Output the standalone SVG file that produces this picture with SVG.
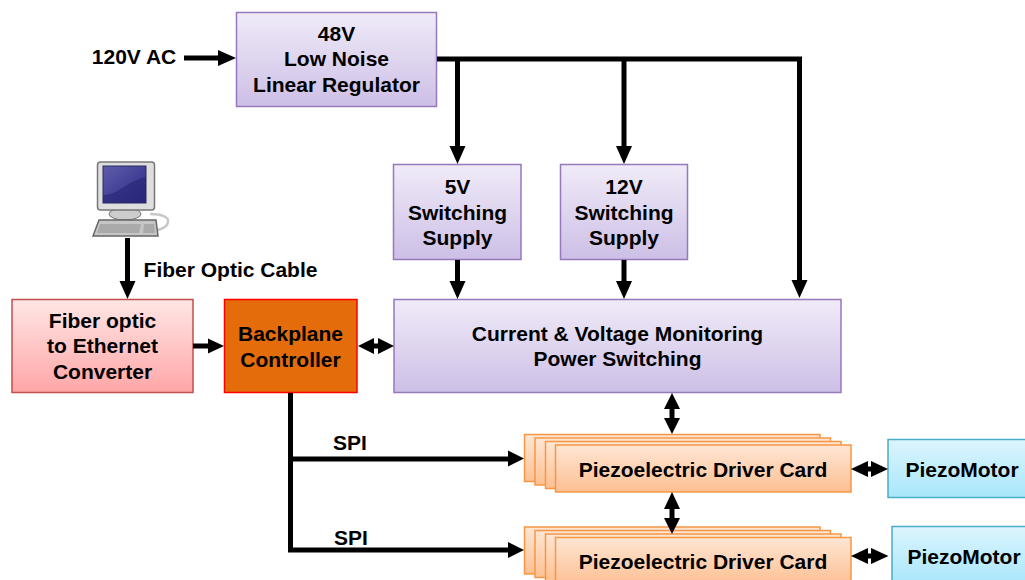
<svg xmlns="http://www.w3.org/2000/svg" width="1025" height="580" viewBox="0 0 1025 580">
<style>
text{font-family:"Liberation Sans",Arial,sans-serif;font-weight:700;font-size:21px;fill:#000;text-anchor:middle}
.p{fill:url(#gp);stroke:#9678bd;stroke-width:1.5}
.o{fill:url(#go);stroke:#f79646;stroke-width:1.5}
.b{fill:url(#gb);stroke:#4bacc6;stroke-width:1.5}
.w{fill:none;stroke:#000;stroke-width:5}
.h{fill:#000}
</style>
<defs>
<linearGradient id="gp" x1="0" y1="0" x2="0" y2="1"><stop offset="0" stop-color="#f0ebf8"/><stop offset="1" stop-color="#cdbfe6"/></linearGradient>
<linearGradient id="go" x1="0" y1="0" x2="0" y2="1"><stop offset="0" stop-color="#fee6d4"/><stop offset="1" stop-color="#fdc093"/></linearGradient>
<linearGradient id="gb" x1="0" y1="0" x2="0" y2="1"><stop offset="0" stop-color="#dcf5fd"/><stop offset="1" stop-color="#a8e6fb"/></linearGradient>
<linearGradient id="gr" x1="0" y1="0" x2="0" y2="1"><stop offset="0" stop-color="#ffe6e6"/><stop offset="1" stop-color="#ffa6a6"/></linearGradient>
<linearGradient id="gs" x1="0" y1="0" x2="1" y2="1"><stop offset="0" stop-color="#5f5da8"/><stop offset="1" stop-color="#2a2888"/></linearGradient>
</defs>
<g id="regulator"><rect class="p" x="236.500" y="12.500" width="200" height="94"/><text x="336.500" y="41">48V</text><text x="336.500" y="66">Low Noise</text><text x="336.500" y="92">Linear Regulator</text></g>
<text id="ac" x="134" y="64">120V AC</text>
<g id="computer">
<path d="M150 214C162 214 169 217 168 222C167 228 158 231 145 231" fill="none" stroke="#c8c8c8" stroke-width="2.500"/>
<ellipse cx="125" cy="214" rx="16" ry="6" fill="#cdcdcd" stroke="#777" stroke-width="1"/>
<rect x="97.500" y="162" width="57" height="48" rx="3" fill="#dedede" stroke="#777" stroke-width="1.500"/>
<rect x="103" y="166" width="43" height="37" fill="url(#gs)" stroke="#2a2a60" stroke-width="1"/>
<path d="M103 203V195C120 194 125 182 146 177V203Z" fill="#26246f" opacity=".6"/>
<path d="M93 236L99 220H156L158 236Z" fill="#c6c6c6" stroke="#666" stroke-width="1.500"/>
<path d="M100 224H141L139 233H97ZM144 224H154L155 233H143Z" fill="#aaa"/>
</g>
<text id="cable" x="230.500" y="277">Fiber Optic Cable</text>
<g id="five"><rect class="p" x="393.500" y="164.500" width="127.500" height="95"/><text x="457.500" y="194">5V</text><text x="457.500" y="220">Switching</text><text x="457.500" y="245">Supply</text></g>
<g id="twelve"><rect class="p" x="560.500" y="164.500" width="127" height="95"/><text x="624" y="194">12V</text><text x="624" y="220">Switching</text><text x="624" y="245">Supply</text></g>
<g id="converter"><rect x="12" y="299.500" width="181" height="93" fill="url(#gr)" stroke="#c0504d" stroke-width="1.500"/><text x="102.500" y="328">Fiber optic</text><text x="102.500" y="353">to Ethernet</text><text x="102.500" y="379">Converter</text></g>
<g id="backplane"><rect x="224.500" y="299.500" width="132.500" height="93" fill="#e46c0a" stroke="#f00" stroke-width="1.500"/><text x="290.500" y="341">Backplane</text><text x="290.500" y="367">Controller</text></g>
<g id="monitor"><rect class="p" x="394" y="299.500" width="447" height="93"/><text x="617.500" y="341">Current &amp; Voltage Monitoring</text><text x="617.500" y="366">Power Switching</text></g>
<text id="spi1" x="350" y="450">SPI</text>
<text id="spi2" x="351" y="545">SPI</text>
<g id="cards1"><rect class="o" x="524.500" y="434.500" width="295.500" height="47"/><rect class="o" x="535" y="438" width="295.500" height="47"/><rect class="o" x="545.500" y="441.500" width="295.500" height="47"/><rect class="o" x="555.500" y="445" width="295.500" height="47"/><text x="703" y="476.500">Piezoelectric Driver Card</text></g>
<g id="cards2"><rect class="o" x="524.500" y="527" width="295.500" height="47"/><rect class="o" x="535" y="530.500" width="295.500" height="47"/><rect class="o" x="545.500" y="534" width="295.500" height="47"/><rect class="o" x="555.500" y="537.500" width="295.500" height="47"/><text x="703" y="569">Piezoelectric Driver Card</text></g>
<g id="motor1"><rect class="b" x="888" y="439.500" width="140" height="58"/><text x="962" y="476.500">PiezoMotor</text></g>
<g id="motor2"><rect class="b" x="892" y="526.500" width="136" height="58"/><text x="964" y="564">PiezoMotor</text></g>
<g id="connectors">
<path class="w" d="M184 58H220"/><path class="h" d="M236 58L218 50V66Z"/>
<path class="w" d="M437 59H799.500V282"/><path class="h" d="M799.500 298L791.500 280H807.500Z"/>
<path class="w" d="M457.500 59V148"/><path class="h" d="M457.500 164L449.500 146H465.500Z"/>
<path class="w" d="M624 59V148"/><path class="h" d="M624 164L616 146H632Z"/>
<path class="w" d="M457.500 260V284"/><path class="h" d="M457.500 299L449.500 281H465.500Z"/>
<path class="w" d="M624 260V284"/><path class="h" d="M624 299L616 281H632Z"/>
<path class="w" d="M127.500 238V284"/><path class="h" d="M127.500 299L119.500 281H135.500Z"/>
<path class="w" d="M193 346H209"/><path class="h" d="M224 346L208 338.500V353.500Z"/>
<path class="w" d="M370 346H382"/><path class="h" d="M358 346L374 338V354ZM394 346L378 338V354Z"/>
<path class="w" d="M290.500 393V550H510M290.500 459H510"/><path class="h" d="M524 458.500L508 450.500V466.500ZM524 550L508 542V558Z"/>
<path class="w" d="M672 405V423"/><path class="h" d="M672 393L664 409H680ZM672 434L664 418H680Z"/>
<path class="w" d="M672 503V523"/><path class="h" d="M672 492L664 509H680ZM672 534L664 518H680Z"/>
<path class="w" d="M862 469H877"/><path class="h" d="M851 469L868 461V477ZM888 469L871 461V477Z"/>
<path class="w" d="M862 556H877"/><path class="h" d="M851 556L868 548V564ZM888.500 556L871 548V564Z"/>
</g>
</svg>
